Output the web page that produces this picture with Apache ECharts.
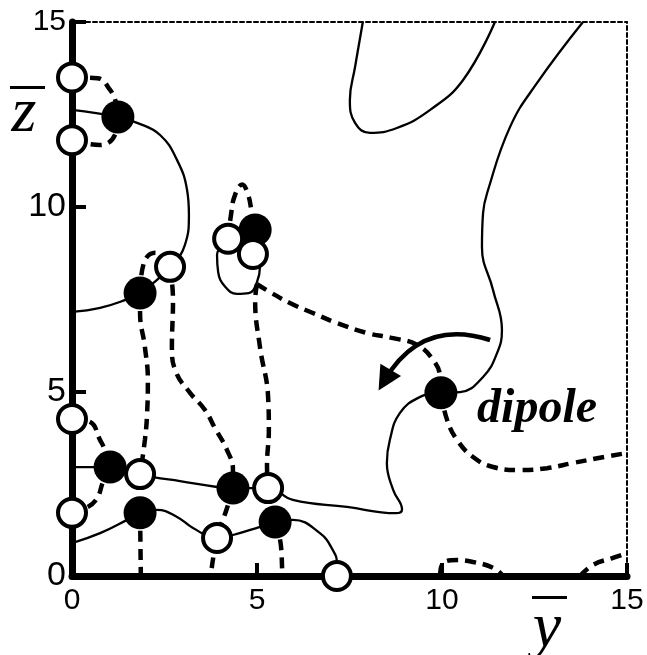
<!DOCTYPE html>
<html>
<head>
<meta charset="utf-8">
<script src="https://cdn.jsdelivr.net/npm/echarts@6/dist/echarts.min.js"></script>
<style>html,body{margin:0;padding:0;background:#fff;}#c{width:647px;height:655px;}</style>
</head>
<body>
<div id="c"></div>
<script>
// ---- data (in axis units) ----
const openCircles = [[0,13.5],[0,11.8],[2.65,8.37],[4.22,9.13],[4.89,8.72],[0,4.25],[1.84,2.76],[5.3,2.38],[0,1.71],[3.92,1.03],[7.16,0]];
const filledCircles = [[1.24,12.43],[1.84,7.66],[4.95,9.37],[9.97,4.96],[1.03,2.95],[4.35,2.38],[1.84,1.71],[5.49,1.46]];

// solid curves
const solidTopLeft = [[0,12.62],[1.24,12.43],[1.76,12.27],[2.38,11.94],[2.84,11.26],[3.11,10.45],[3.16,9.78],[3.05,8.96],[2.65,8.37],[1.84,7.66],[1.43,7.47],[0.76,7.26],[0,7.15]];
const solidLoop = [[4.22,9.13],[3.92,8.69],[3.95,8.23],[4.14,7.83],[4.46,7.64],[4.78,7.66],[5.0,7.96],[5.08,8.37],[4.89,8.72]];
const solidRight = [[13.81,15],[12.57,13.35],[11.84,12.16],[11.22,10.37],[11.11,9.83],[11.08,8.91],[11.38,7.74],[11.62,6.66],[11.49,6.04],[11.11,5.39],[10.49,4.98],[9.97,4.96],[9.41,4.85],[8.86,4.41],[8.59,3.68],[8.51,3.06],[8.68,2.33],[8.92,1.8],[8.75,1.7],[7.43,1.87],[5.97,2.06],[5.3,2.38],[4.35,2.38],[3.92,2.41],[2.92,2.57],[2.19,2.68],[1.84,2.76],[1.03,2.95],[0,2.95]];
const solidLower = [[0,0.89],[0.76,1.16],[1.49,1.52],[1.84,1.71],[2.3,1.79],[2.84,1.6],[3.27,1.3],[3.92,1.03],[4.35,1.11],[5.08,1.33],[5.49,1.46],[5.97,1.52],[6.7,1.16],[7.05,0.7],[7.16,0.35],[7.16,0]];
const solidU = [[7.86,15],[7.65,13.78],[7.51,12.89],[7.65,12.27],[8.05,12.0],[8.78,12.13],[9.68,12.62],[10.57,13.43],[11.43,15]];

// dashed curves
const dashTopArc = [[0,13.5],[0.68,13.48],[1.03,13.16],[1.19,12.81],[1.24,12.43],[1.16,11.94],[0.76,11.67],[0,11.8]];
const dashShortArc = [[1.84,7.66],[1.95,8.5],[2.25,8.75],[2.65,8.37]];
const dashCol1 = [[1.84,7.66],[1.84,7.12],[1.97,6.2],[2.05,5.31],[2.03,4.41],[1.97,3.68],[1.84,2.76]];
const dashCol2 = [[2.65,8.37],[2.73,7.47],[2.7,6.2],[2.81,5.52],[3.19,4.96],[3.59,4.5],[3.86,4.01],[4.19,3.41],[4.35,2.87],[4.35,2.38]];
const dashShort2 = [[4.35,2.38],[4.19,1.84],[3.92,1.03],[3.75,0]];
const dashDrop1 = [[1.84,1.71],[1.86,0]];
const dashDrop2 = [[5.49,1.46],[5.65,0.79],[5.68,0]];
const dashLeft1 = [[0,4.25],[0.49,4.17],[0.76,3.68],[0.89,3.41],[1.03,2.95]];
const dashLeft2 = [[1.03,2.95],[0.84,2.55],[0.65,2.06],[0.3,1.8],[0,1.71]];
const dashCol3 = [[5.0,7.9],[4.95,7.47],[5.08,6.2],[5.3,4.85],[5.32,3.95],[5.27,3.0],[5.3,2.38]];
const dashToDipole = [[5.0,7.9],[5.35,7.69],[5.89,7.39],[6.51,7.12],[7.16,6.85],[7.97,6.58],[8.68,6.44],[9.32,6.26],[9.76,5.85],[9.95,5.39],[9.97,4.96]];
const dashClusterTop = [[4.22,9.13],[4.3,9.8],[4.4,10.3],[4.6,10.6],[4.75,10.35],[4.85,9.9],[4.95,9.37]];
const dashDipoleRight = [[9.97,4.96],[10.14,4.22],[10.41,3.68],[10.84,3.22],[11.38,2.95],[12.11,2.87],[12.84,2.92],[13.54,3.06],[14.27,3.2],[15,3.33]];
const dashBottomArc1 = [[9.95,0],[10.03,0.35],[10.41,0.43],[10.84,0.38],[11.38,0.22],[11.65,0]];
const dashBottomArc2 = [[13.73,0],[14.08,0.3],[14.62,0.49],[15,0.62]];

const arrowCoords = [[11.3,6.39],[8.45,5.3]];
const dipoleLabel = {text:'dipole', at:[12.57,4.5]};
const smallYLabels = [15];

const solidCurves = [solidTopLeft, solidLoop, solidRight, solidLower, solidU];
const dashedCurves = [dashTopArc, dashShortArc, dashCol1, dashCol2, dashShort2, dashDrop1, dashDrop2, dashLeft1, dashLeft2, dashCol3, dashToDipole, dashClusterTop, dashDipoleRight, dashBottomArc1, dashBottomArc2];

const chart = echarts.init(document.getElementById('c'), null, {renderer:'canvas'});
const series = [];
solidCurves.forEach(d => series.push({type:'line', data:d, smooth:0.45, symbol:'none', clip:false, z:2,
  lineStyle:{color:'#000', width:2.3, opacity:1}}));
dashedCurves.forEach(d => series.push({type:'line', data:d, smooth:0.45, symbol:'none', clip:false, z:2,
  lineStyle:{color:'#000', width:4.5, type:[11,7], cap:'butt', opacity:1}}));
series.push({type:'lines', coordinateSystem:'cartesian2d', z:3,
  data:[{coords:arrowCoords}], symbol:['none','triangle'], symbolSize:24,
  lineStyle:{color:'#000', width:4.5, curveness:-0.4, opacity:1}, effect:{show:false}});
series.push({type:'scatter', data:filledCircles, symbol:'circle', symbolSize:33, clip:false, z:5,
  itemStyle:{color:'#000', opacity:1}});
series.push({type:'scatter', data:openCircles, symbol:'circle', symbolSize:28, clip:false, z:6,
  itemStyle:{color:'#fff', borderColor:'#000', borderWidth:4, opacity:1}});
series.push({type:'scatter', data:[dipoleLabel.at], symbolSize:0, clip:false, z:7,
  itemStyle:{opacity:1},
  label:{show:true, position:'inside', formatter:dipoleLabel.text, color:'#000',
    fontFamily:'Liberation Serif', fontStyle:'italic', fontWeight:'bold', fontSize:48}});

chart.setOption({
  animation:false,
  backgroundColor:'#fff',
  grid:{left:72, right:20, top:22, bottom:79},
  xAxis:[{type:'value', min:0, max:15, interval:5, position:'bottom',
      axisLine:{show:true, onZero:false, lineStyle:{color:'#000', width:7}},
      axisTick:{show:true, inside:true, length:13, lineStyle:{color:'#000', width:4}},
      axisLabel:{color:'#000', fontFamily:'Liberation Sans', fontSize:30, margin:10},
      splitLine:{show:false}},
    {type:'value', min:0, max:15, position:'top',
      axisLine:{show:true, onZero:false, lineStyle:{color:'#000', width:2, type:[4,3]}},
      axisTick:{show:false}, axisLabel:{show:false}, splitLine:{show:false}}],
  yAxis:[{type:'value', min:0, max:15, interval:5, position:'left',
      axisLine:{show:true, onZero:false, lineStyle:{color:'#000', width:7}},
      axisTick:{show:true, inside:true, length:14, lineStyle:{color:'#000', width:4}},
      axisLabel:{color:'#000', fontFamily:'Liberation Sans', margin:6,
        formatter: v => smallYLabels.indexOf(v) >= 0 ? '{s|' + v + '}' : '{b|' + v + '}',
        rich:{s:{fontFamily:'Liberation Sans', fontSize:30, color:'#000'},
              b:{fontFamily:'Liberation Sans', fontSize:34, color:'#000'}}},
      splitLine:{show:false}},
    {type:'value', min:0, max:15, position:'right',
      axisLine:{show:true, onZero:false, lineStyle:{color:'#000', width:2, type:[4,3]}},
      axisTick:{show:false}, axisLabel:{show:false}, splitLine:{show:false}}],
  graphic:[
    {type:'rect', left:10, top:86, shape:{width:35, height:3}, style:{fill:'#000'}},
    {type:'text', x:24, y:146, style:{text:'z', fill:'#000', font:'italic 64px "Liberation Serif"', textAlign:'center', textVerticalAlign:'bottom'}},
    {type:'rect', left:532, top:596, shape:{width:35, height:3}, style:{fill:'#000'}},
    {type:'text', x:547, y:661, style:{text:'y', fill:'#000', font:'italic 64px "Liberation Serif"', textAlign:'center', textVerticalAlign:'bottom'}}
  ],
  series: series
});
</script>
</body>
</html>
